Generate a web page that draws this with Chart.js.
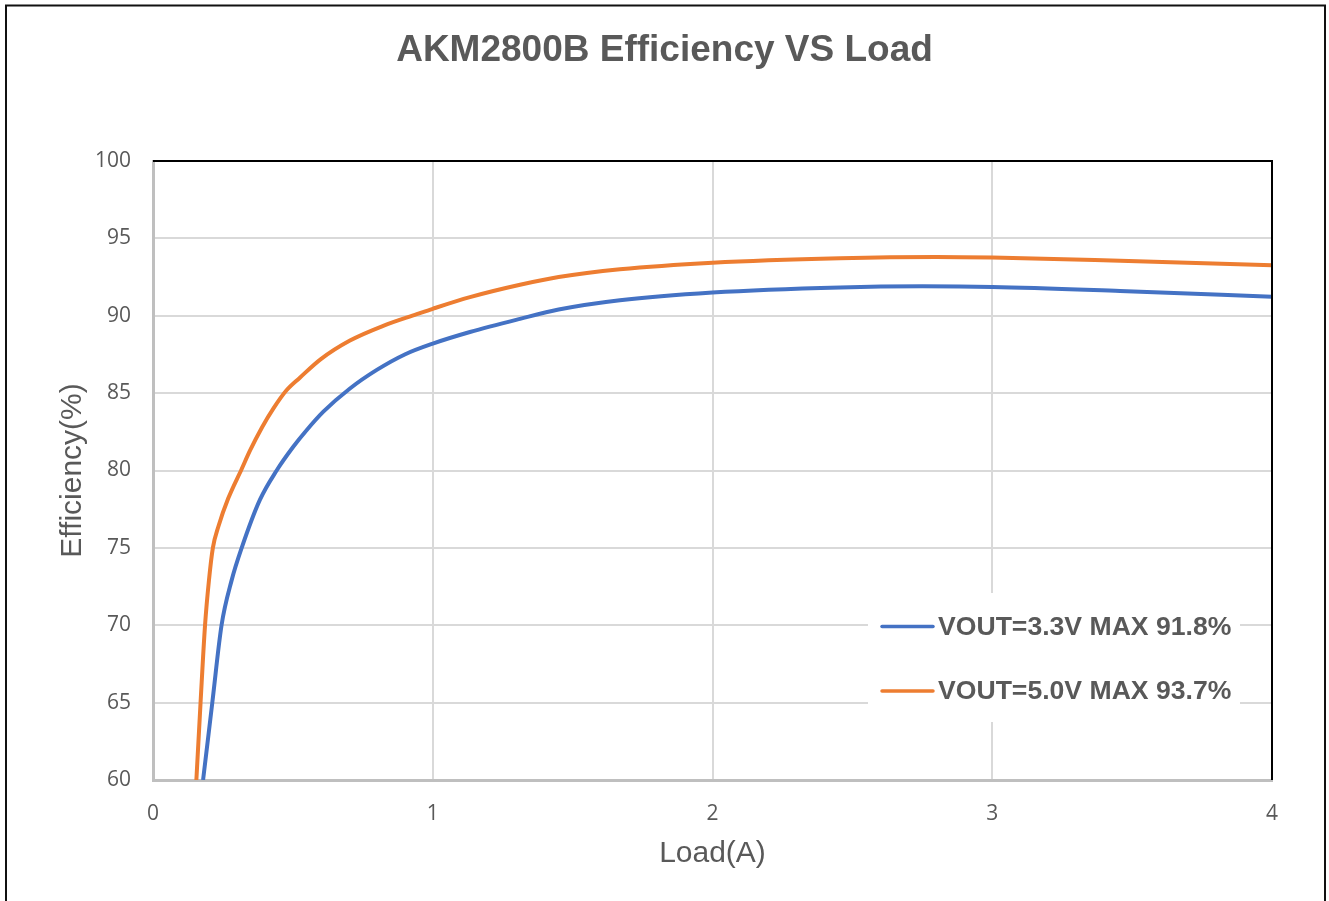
<!DOCTYPE html>
<html>
<head>
<meta charset="utf-8">
<script src="https://cdn.jsdelivr.net/npm/chart.js@4.4.1/dist/chart.umd.min.js"></script>
<style>
  html, body { margin: 0; padding: 0; background: #ffffff; }
  #c { display: block; }
</style>
</head>
<body>
<canvas id="c" width="1329" height="901" style="width:1329px;height:901px"></canvas>
<script>
// ---- data ----
const chartTitle = 'AKM2800B Efficiency VS Load';
const xTitle = 'Load(A)';
const yTitle = 'Efficiency(%)';
const seriesLabels = ['VOUT=3.3V MAX 91.8%', 'VOUT=5.0V MAX 93.7%'];

const load33 = [0.179, 0.212, 0.245, 0.281, 0.317, 0.382, 0.442, 0.50, 0.549, 0.609, 0.704, 0.80, 0.90, 1.0, 1.133, 1.312, 1.45, 1.669, 2.0, 2.456, 2.75, 3.0, 3.457, 4.0];
const eff33  = [60, 65, 70, 72.9, 75.0, 78.1, 80.0, 81.5, 82.6, 83.8, 85.3, 86.5, 87.5, 88.2, 88.95, 89.8, 90.4, 91.0, 91.5, 91.83, 91.9, 91.86, 91.6, 91.23];

const load50 = [0.155, 0.170, 0.186, 0.200, 0.214, 0.234, 0.269, 0.317, 0.347, 0.390, 0.430, 0.478, 0.525, 0.60, 0.704, 0.823, 0.943, 1.0, 1.133, 1.312, 1.45, 1.669, 2.0, 2.456, 2.8, 3.0, 3.457, 4.0];
const eff50  = [60, 65, 70, 72.9, 75.0, 76.4, 78.2, 80.1, 81.3, 82.8, 84.0, 85.2, 86.0, 87.2, 88.4, 89.35, 90.1, 90.45, 91.2, 92.0, 92.5, 93.0, 93.43, 93.72, 93.8, 93.76, 93.55, 93.26];

const xTicks = [0, 1, 2, 3, 4];
const yTicks = [60, 65, 70, 75, 80, 85, 90, 95, 100];
const seriesColors = ['#4472C4', '#ED7D31'];

function pts(xs, ys) { return xs.map((x, i) => ({ x: x, y: ys[i] })); }

const TEXT = '#595959';

const framePlugin = {
  id: 'frame',
  afterDraw(chart) {
    const ctx = chart.ctx;
    const a = chart.chartArea;
    ctx.save();
    // plot-area black top & right edges
    ctx.strokeStyle = '#000000';
    ctx.lineWidth = 2;
    ctx.beginPath();
    ctx.moveTo(a.left, a.top);
    ctx.lineTo(a.right, a.top);
    ctx.lineTo(a.right, a.bottom);
    ctx.stroke();
    // outer chart frame
    ctx.lineWidth = 2;
    ctx.strokeStyle = '#111111';
    ctx.beginPath();
    ctx.moveTo(6, 905);
    ctx.lineTo(6, 5.5);
    ctx.lineTo(1325, 5.5);
    ctx.lineTo(1325, 905);
    ctx.stroke();

    // legend inside plot area
    const bx = 868, by = 593, bw = 372, bh = 129;
    ctx.fillStyle = '#ffffff';
    ctx.fillRect(bx, by, bw, bh);
    const rows = [626.5, 691];
    chart.data.datasets.forEach((ds, i) => {
      const y = rows[i];
      ctx.strokeStyle = ds.borderColor;
      ctx.lineWidth = 3.5;
      ctx.lineCap = 'round';
      ctx.beginPath();
      ctx.moveTo(882, y);
      ctx.lineTo(933, y);
      ctx.stroke();
      ctx.fillStyle = TEXT;
      ctx.font = 'bold 26.6px "Liberation Sans", Arial, sans-serif';
      ctx.textAlign = 'left';
      ctx.textBaseline = 'middle';
      ctx.fillText(ds.label, 938, y + 1);
    });
    ctx.restore();
  }
};

new Chart(document.getElementById('c'), {
  type: 'line',
  data: {
    datasets: [
      {
        label: seriesLabels[0],
        data: pts(load33, eff33),
        borderColor: seriesColors[0],
        backgroundColor: seriesColors[0],
        borderWidth: 4,
        pointRadius: 0,
        cubicInterpolationMode: 'monotone',
        fill: false
      },
      {
        label: seriesLabels[1],
        data: pts(load50, eff50),
        borderColor: seriesColors[1],
        backgroundColor: seriesColors[1],
        borderWidth: 4,
        pointRadius: 0,
        cubicInterpolationMode: 'monotone',
        fill: false
      }
    ]
  },
  options: {
    responsive: false,
    animation: false,
    devicePixelRatio: 1,
    layout: { padding: 0 },
    plugins: {
      legend: { display: false },
      tooltip: { enabled: false },
      title: {
        display: true,
        text: chartTitle,
        color: TEXT,
        font: { family: '"Liberation Sans", Arial, sans-serif', size: 37, weight: 'bold', lineHeight: 1.2 },
        padding: { top: 29, bottom: 87.6 }
      }
    },
    scales: {
      x: {
        type: 'linear',
        min: 0,
        max: 4,
        afterBuildTicks(scale) { scale.ticks = xTicks.map(v => ({ value: v })); },
        afterFit(scale) { scale.height = 121; },
        ticks: {
          color: TEXT,
          padding: 21,
          font: { family: '"Open Sans", sans-serif', size: 21 }
        },
        grid: { color: '#D9D9D9', lineWidth: 2, drawTicks: false },
        border: { display: true, color: '#BFBFBF', width: 3 },
        title: {
          display: true,
          text: xTitle,
          color: TEXT,
          font: { family: '"Liberation Sans", Arial, sans-serif', size: 30, lineHeight: 1.2 },
          padding: { top: 0, bottom: 29 }
        }
      },
      y: {
        type: 'linear',
        position: 'left',
        min: 60,
        max: 100,
        afterBuildTicks(scale) { scale.ticks = yTicks.map(v => ({ value: v })); },
        afterFit(scale) { scale.width = 153; },
        ticks: {
          color: TEXT,
          padding: 22,
          font: { family: '"Open Sans", sans-serif', size: 21 }
        },
        grid: { color: '#D9D9D9', lineWidth: 2, drawTicks: false },
        border: { display: true, color: '#BFBFBF', width: 3 },
        title: {
          display: true,
          text: yTitle,
          color: TEXT,
          font: { family: '"Liberation Sans", Arial, sans-serif', size: 30, lineHeight: 1.2 },
          padding: { top: 55, bottom: 0 }
        }
      },
      yRight: {
        type: 'linear',
        position: 'right',
        display: true,
        afterFit(scale) { scale.width = 57; },
        ticks: { display: false },
        grid: { display: false, drawTicks: false },
        border: { display: false }
      }
    }
  },
  plugins: [framePlugin]
});
</script>
</body>
</html>
